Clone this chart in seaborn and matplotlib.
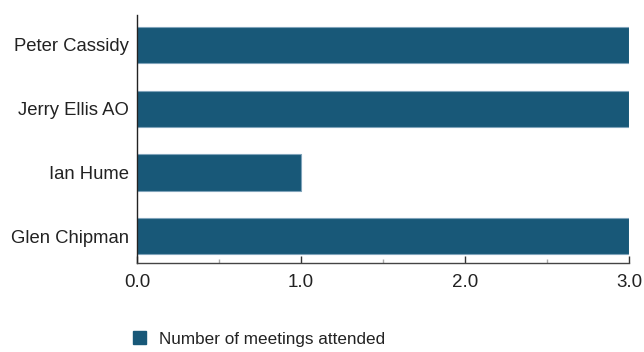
import matplotlib
matplotlib.use("Agg")
import matplotlib.pyplot as plt
import seaborn as sns
import pandas as pd
from matplotlib.ticker import MultipleLocator
from matplotlib.patches import Patch

names = ["Peter Cassidy", "Jerry Ellis AO", "Ian Hume", "Glen Chipman"]
meetings = [3, 3, 1, 3]
xticks = [0.0, 1.0, 2.0, 3.0]
xtick_labels = ["0.0", "1.0", "2.0", "3.0"]
series_label = "Number of meetings attended"

sns.set_theme(style="white")
plt.rcParams['font.family'] = ['Liberation Sans', 'DejaVu Sans']

color = "#185878"
df = pd.DataFrame({"name": names, "value": meetings})

fig = plt.figure(figsize=(6.44, 3.52), dpi=100)
ax = fig.add_axes([137/644, 1-263/352, (629-137)/644, (263-15)/352])
sns.barplot(data=df, y="name", x="value", orient="h", color=color,
            saturation=1, width=0.57, edgecolor="#7fa3ba", linewidth=0.8, ax=ax)
ax.set_xlim(0, 3)
ax.set_ylim(3.42, -0.47)
ax.set_xlabel("")
ax.set_ylabel("")
ax.set_xticks(xticks)
ax.set_xticklabels(xtick_labels)
ax.xaxis.set_minor_locator(MultipleLocator(0.5))
ax.tick_params(axis="x", which="major", direction="in", length=5, width=1,
               color="#333333", labelsize=13.5, labelcolor="#222222", pad=8)
ax.tick_params(axis="x", which="minor", direction="in", length=3, width=1,
               color="#aaaaaa")
ax.tick_params(axis="x", bottom=True, which="both")
ax.tick_params(axis="y", length=0, labelsize=13.3, labelcolor="#222222", pad=6)
for s in ["top", "right"]:
    ax.spines[s].set_visible(False)
ax.spines["left"].set_color("#222222")
ax.spines["left"].set_linewidth(1)
ax.spines["bottom"].set_color("#444444")
ax.spines["bottom"].set_linewidth(1)

handles = [Patch(facecolor=color, edgecolor=color, label=series_label)]
fig.legend(handles=handles, loc="center left", bbox_to_anchor=(118/644, 1-339/352),
           frameon=False, fontsize=12.3, handlelength=0.75, handleheight=0.75,
           handletextpad=0.75, labelcolor="#222222")

fig.savefig("out.png", dpi=100)
